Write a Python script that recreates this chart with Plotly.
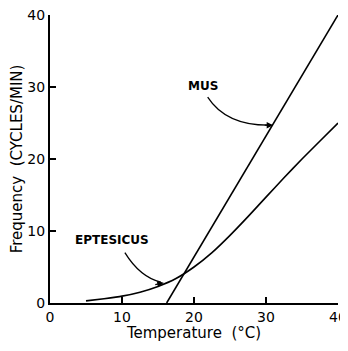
import plotly.graph_objects as go

# Data
mus_temp = [16.2, 40.0]
mus_freq = [0.0, 40.0]

ept_temp = [5, 7.5, 10, 12.5, 15, 17.5, 20, 22.5, 25, 27.5, 30, 32.5, 35, 37.5, 40]
ept_freq = [0.3, 0.6, 0.95, 1.5, 2.3, 3.4, 5.0, 7.0, 9.4, 12.0, 14.7, 17.4, 20.0, 22.5, 25.0]

x_ticks = [0, 10, 20, 30, 40]
y_ticks = [0, 10, 20, 30, 40]

fig = go.Figure()
fig.add_trace(go.Scatter(x=mus_temp, y=mus_freq, mode="lines",
                         line=dict(color="black", width=1.6), hoverinfo="skip"))
fig.add_trace(go.Scatter(x=ept_temp, y=ept_freq, mode="lines",
                         line=dict(color="black", width=1.6, shape="spline", smoothing=0.6), hoverinfo="skip"))

font_lbl = dict(family="DejaVu Sans", size=12, color="black")

# Labels
fig.add_annotation(x=21.3, y=30.1, text="<b>MUS</b>", showarrow=False, font=font_lbl)
fig.add_annotation(x=8.6, y=8.75, text="<b>EPTESICUS</b>", showarrow=False, font=font_lbl)

# Curved leader lines
fig.add_shape(type="path", path="M 21.9 28.6 Q 24.5 24.6 30.6 24.7",
              line=dict(color="black", width=1.3), xref="x", yref="y")
fig.add_shape(type="path", path="M 10.4 7.0 Q 12.5 3.6 15.4 2.9",
              line=dict(color="black", width=1.3), xref="x", yref="y")
# Arrowheads
fig.add_annotation(x=31.0, y=24.7, ax=-10, ay=0, xref="x", yref="y", text="", showarrow=True,
                   arrowhead=2, arrowsize=1, arrowwidth=1.3, arrowcolor="black")
fig.add_annotation(x=15.8, y=2.8, ax=-10, ay=2, xref="x", yref="y", text="", showarrow=True,
                   arrowhead=2, arrowsize=1, arrowwidth=1.3, arrowcolor="black")

tick_font = dict(family="DejaVu Sans", size=14, color="black")
common = dict(range=[0, 40], ticks="inside", ticklen=6, tickwidth=1.5, tickcolor="black",
              showline=True, linecolor="black", linewidth=2, showgrid=False, zeroline=False,
              tickfont=tick_font, automargin=False, ticklabeloverflow="allow")
fig.update_xaxes(tickvals=x_ticks, ticktext=[str(v) for v in x_ticks],
                 title=dict(text="Temperature  (°C)", font=dict(family="DejaVu Sans", size=15, color="black"), standoff=3),
                 **common)
fig.update_yaxes(tickvals=y_ticks, ticktext=[str(v) for v in y_ticks],
                 title=dict(text="Frequency  (CYCLES/MIN)", font=dict(family="DejaVu Sans", size=15, color="black"), standoff=4),
                 **common)

# page has an 8px body margin, so the figure is shrunk and offset to land the plot area where the reference has it
fig.update_layout(width=340, height=334, margin=dict(l=42, r=10, t=7, b=39),
                  plot_bgcolor="white", paper_bgcolor="white", showlegend=False)

fig.write_html("out.html")
